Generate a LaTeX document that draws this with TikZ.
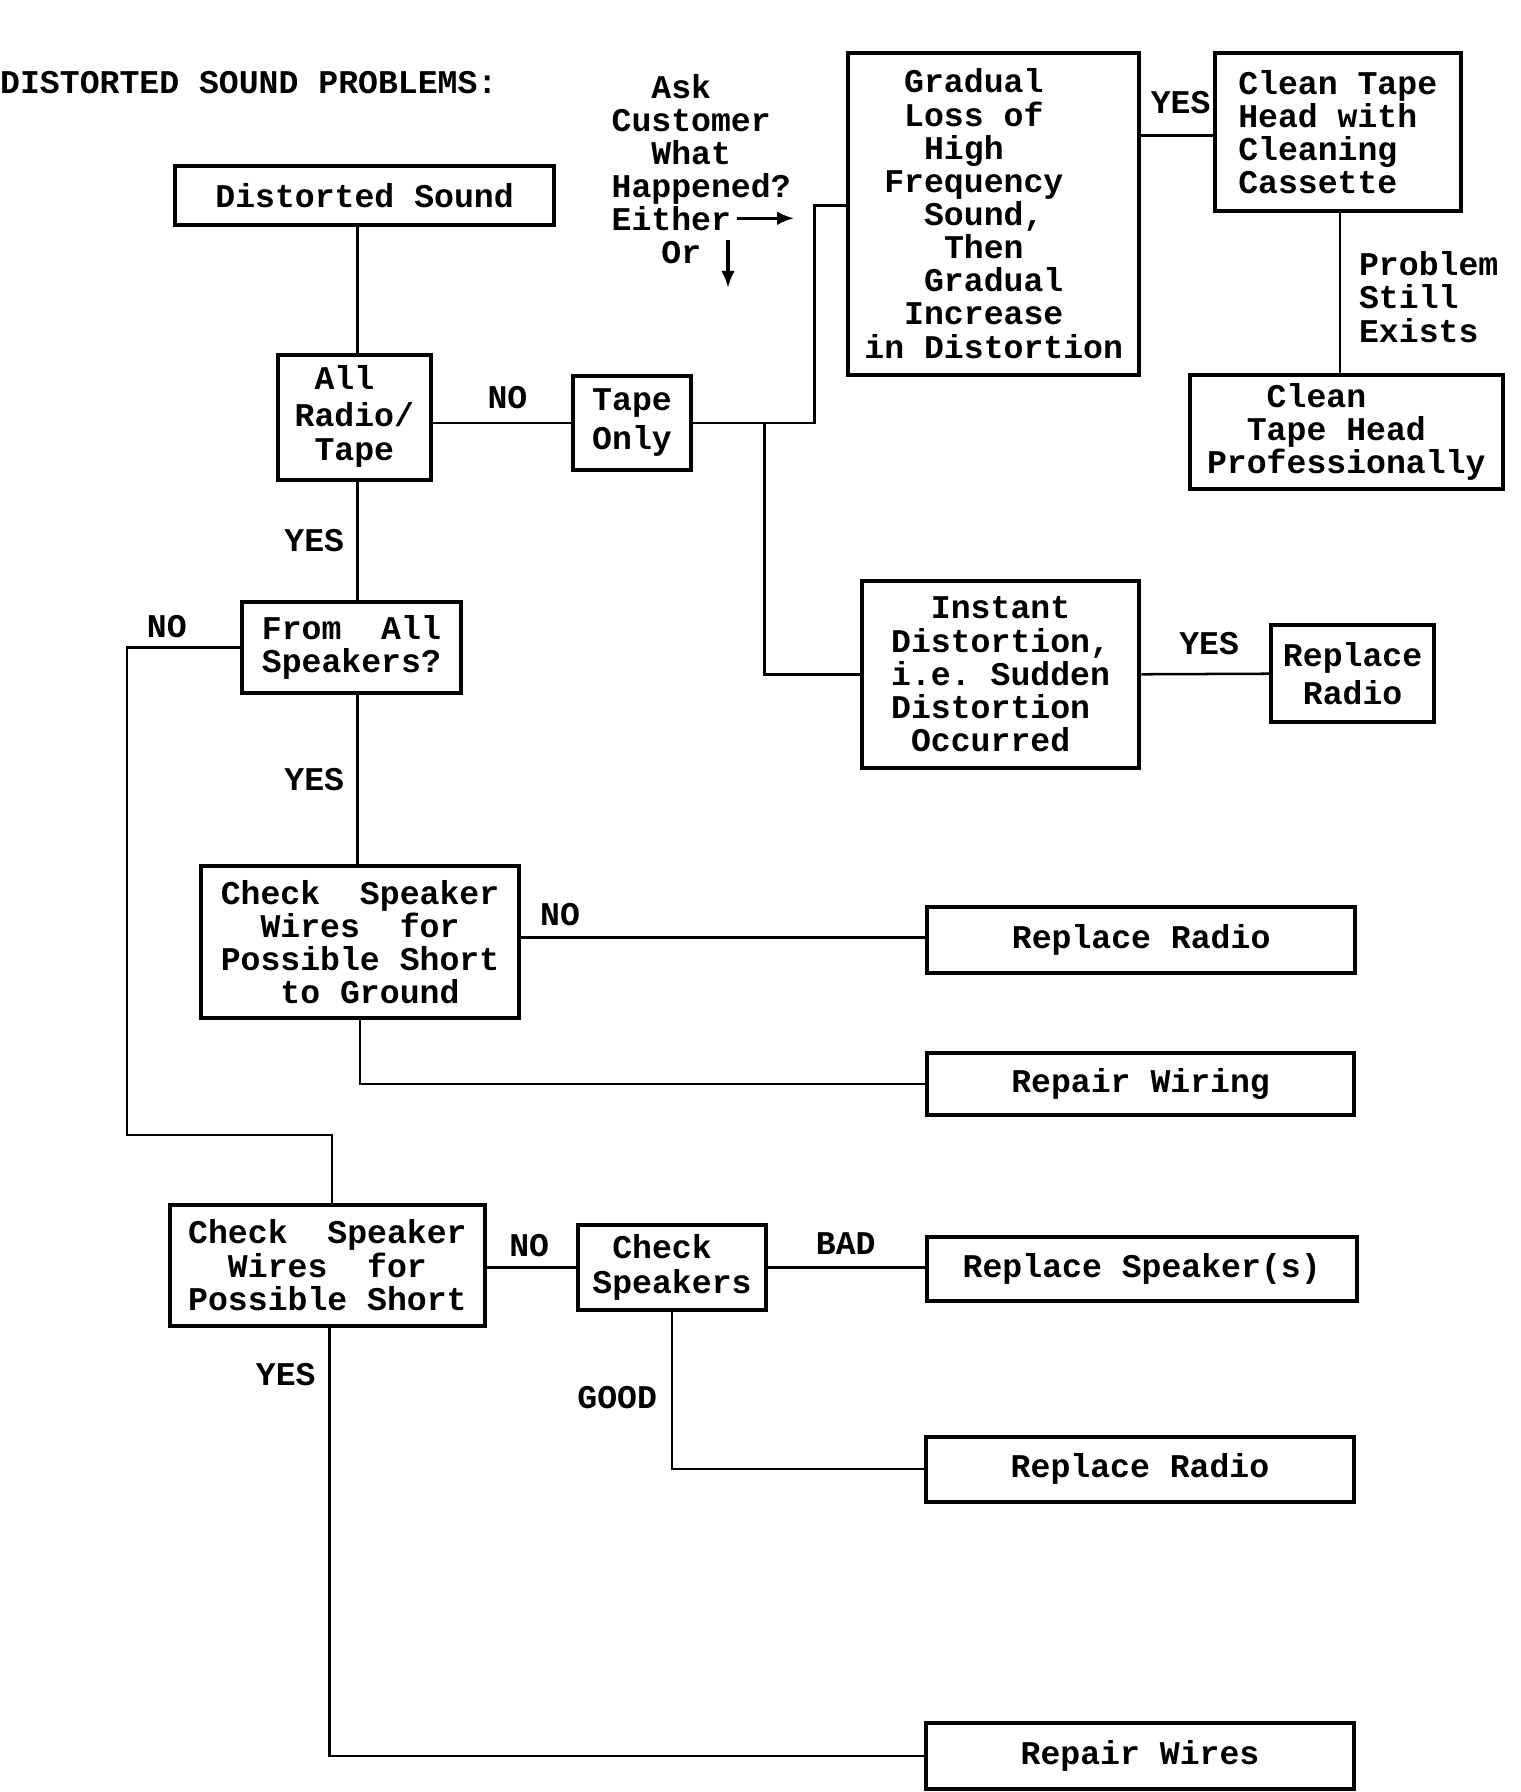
\documentclass[tikz,border=0pt]{standalone}
\usepackage{fontspec}
\setmainfont{Liberation Mono}
\usetikzlibrary{arrows.meta,calc}
\begin{document}
\begin{tikzpicture}[x=1pt,y=-1pt,
  every node/.style={font=\fontsize{29}{29}\selectfont\bfseries\frenchspacing, inner sep=0pt},
  box/.style={draw, line width=3.5pt, align=left},
  bx/.style 2 args={box, minimum width=#1pt, minimum height=#2pt},
  conn/.style={line width=2.2pt},
  arr/.style={line width=3pt,-{Latex[length=15pt,width=12pt]}}]
\useasboundingbox (0,0) rectangle (1330,1568);

% title and side texts
\node[anchor=west] (title) at (0,72) {DISTORTED SOUND PROBLEMS:};
\node[align=left, anchor=west] (ask) at (535,148) {\phantom{xx}Ask\\Customer\\\phantom{xx}What\\Happened?\\Either\\\hspace*{1.5em}Or};
\coordinate (ea1) at (645,191);
\coordinate (ea2) at (695,191);
\coordinate (oa1) at (637,210);
\coordinate (oa2) at (637,252);

% boxes
\node[bx={332}{52}] (ds) at (319,171) {Distorted Sound};
\node[bx={134}{109}] (art) at (310,365.5) {\phantom{x}All\\[3pt]Radio/\\[1pt]\phantom{x}Tape\rule[-8pt]{0pt}{1pt}};
\node[bx={104}{82}] (to) at (553,370) {Tape\\[5pt]Only};
\node[bx={255}{282}] (gl) at (869.5,187) {\phantom{xx}Gradual\\\phantom{xx}Loss of\\\phantom{xxx}High\\\phantom{x}Frequency\\\phantom{xxx}Sound,\\\phantom{xxxx}Then\\\phantom{xxx}Gradual\\\phantom{xx}Increase\\in Distortion};
\node[bx={215}{139}] (ct) at (1170.5,115.5) {Clean Tape\\Head with\\Cleaning\\Cassette};
\node[bx={274}{100}] (cp) at (1178,378) {\phantom{xxx}Clean\\\phantom{xx}Tape Head\\Professionally};
\node[bx={243}{164}] (id) at (875.5,590) {\phantom{xx}Instant\\Distortion,\\i.e. Sudden\\Distortion\\\phantom{x}Occurred};
\node[bx={143}{85}] (rr1) at (1183.5,589.5) {Replace\\[4pt]\phantom{x}Radio};
\node[bx={191}{79}] (fa) at (307.5,566.5) {From\ \ All\\Speakers?};
\node[bx={278}{133}] (cg) at (315,824.5) {Check\ \ Speaker\\\phantom{xx}Wires\ \ for\\Possible Short\\\phantom{xxx}to Ground};
\node[bx={375}{57}] (rr2) at (998.5,822.5) {Replace Radio};
\node[bx={374}{55}] (rw) at (998,948.5) {Repair Wiring};
\node[bx={275}{106}] (cs) at (286.5,1107) {Check\ \ Speaker\\\phantom{xx}Wires\ \ for\\Possible Short};
\node[bx={164}{74}] (ck) at (588,1109) {\phantom{x}Check\\[1pt]Speakers};
\node[bx={376}{56}] (rs) at (999,1110) {Replace Speaker(s)};
\node[bx={375}{57}] (rr3) at (997.5,1285.5) {Replace Radio};
\node[bx={375}{57}] (rwi) at (997.5,1536.5) {Repair Wires};

% labels
\node (l1) at (444,348) {NO};
\node (l2) at (275,473) {YES};
\node (l3) at (1033,90) {YES};
\node[align=left, anchor=west] (pse) at (1189,260) {Problem\\Still\\Exists};
\node (l4) at (1058,563) {YES};
\node (l5) at (146,548) {NO};
\node (l6) at (275,682) {YES};
\node (l7) at (490,800) {NO};
\node (l8) at (463,1090) {NO};
\node (l9) at (740,1088) {BAD};
\node (l10) at (540,1223) {GOOD};
\node (l11) at (250,1203) {YES};

% connectors
\draw[conn] ($(art.north)+(3,0)$) -- ($(art.north |- ds.south)+(3,0)$);
\draw[conn] (to.west) -- (to.west -| art.east);
\draw[conn] (to.east) -- ++(106,0) |- ($(gl.west)+(0,-7)$);
\draw[conn] ($(to.east)+(62,0)$) |- (id.west);
\draw[conn] ($(ct.west)+(0,3)$) -- ($(ct.west -| gl.east)+(0,3)$);
\draw[conn] ($(ct.south)+(2,0)$) -- ($(ct.south |- cp.north)+(2,0)$);
\draw[conn] (id.east) -- (rr1.west);
\draw[conn] ($(art.south)+(3,0)$) -- ($(art.south |- fa.north)+(3,0)$);
\coordinate (c1) at (111,993);
\draw[conn] (fa.west) -| (c1) -| ($(cs.north)+(4,0)$);
\draw[conn] ($(cg.north)+(-2,0)$) -- ($(cg.north |- fa.south)+(-2,0)$);
\draw[conn] ($(rr2.west)+(0,-2)$) -- ($(rr2.west -| cg.east)+(0,-2)$);
\draw[conn] (cg.south) |- (rw.west);
\draw[conn] (ck.west) -- (ck.west -| cs.east);
\draw[conn] (ck.east) -- (ck.east -| rs.west);
\draw[conn] (ck.south) |- (rr3.west);
\draw[conn] ($(cs.south)+(2,0)$) |- (rwi.west);
\draw[arr] (ea1) -- (ea2);
\draw[arr] (oa1) -- (oa2);
\end{tikzpicture}
\end{document}
